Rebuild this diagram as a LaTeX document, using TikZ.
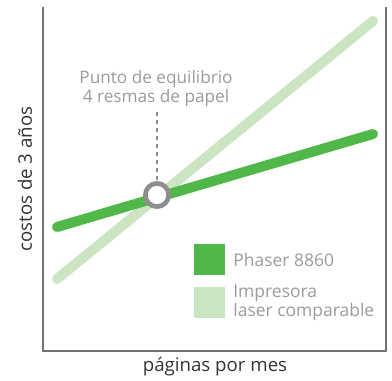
\documentclass[tikz,border=0pt]{standalone}
\usepackage{fontspec}
\setmainfont{Open Sans}
\usetikzlibrary{positioning,calc}
\definecolor{phaser}{HTML}{50B848}
\definecolor{laser}{HTML}{CBE4C1}
\definecolor{axisgray}{HTML}{727272}
\definecolor{labelgray}{HTML}{9B9B9B}
\definecolor{ringgray}{HTML}{8E8E8E}

\begin{document}
\begin{tikzpicture}
[x=0.75pt,y=0.75pt,
node distance=6pt,
axis/.style={draw=axisgray,line width=1pt},
cost/.style={line width=7.5pt,line cap=round},
dark/.style={cost,draw=phaser},
light/.style={cost,draw=laser},
ring/.style={shape=circle,draw=ringgray,fill=white,line width=3.5pt,
  minimum size=17.5pt,inner sep=0pt},
guide/.style={draw=ringgray,line width=1.6pt,dash pattern=on 3pt off 3pt},
key/.style={minimum size=23pt,inner sep=0pt},
keytext/.style={text=labelgray,font=\fontsize{13.1}{14}\selectfont,
  align=left,inner sep=0pt},
note/.style={text=labelgray,font=\fontsize{12.9}{14.3}\selectfont,
  align=center,inner sep=0pt},
title/.style={text=black!80,font=\fontsize{14}{14}\selectfont,inner sep=0pt}]
\useasboundingbox (0,0) rectangle (392,381);
%%
\coordinate (tl) at (43,374);
\coordinate (bl) at (43,30);
\coordinate (br) at (386,30);
\coordinate (tr) at (386,374);
\draw[axis] (tl) -- (bl) -- (br) -- (tr);
%%
\coordinate (l0) at (57,102);
\coordinate (l1) at (373,360);
\coordinate (d0) at (57,154);
\coordinate (d1) at (373,247);
\draw[light] (l0) -- (l1);
\draw[dark] (d0) -- (d1);
%%
\node (eq) [ring] at (157,186) {};
\node (eqlabel) [note] at (156,292) {Punto de equilibrio\\4 resmas de papel};
\coordinate (gtop) at (157,269);
\draw[guide] (gtop) -- (eq.north);
%%
\node (k1) [key,fill=phaser] at (209.5,121.5) {};
\node (k2) [key,fill=laser,below=9pt of k1] {};
\node (t1) [keytext,right=of k1] {Phaser 8860};
\node (t2) [keytext,right=of k2] {Impresora\\laser comparable};
%%
\node (ylab) [title,rotate=90] at (25,202) {costos de 3 años};
\node (xlab) [title] at (215,14) {páginas por mes};
\end{tikzpicture}
\end{document}
